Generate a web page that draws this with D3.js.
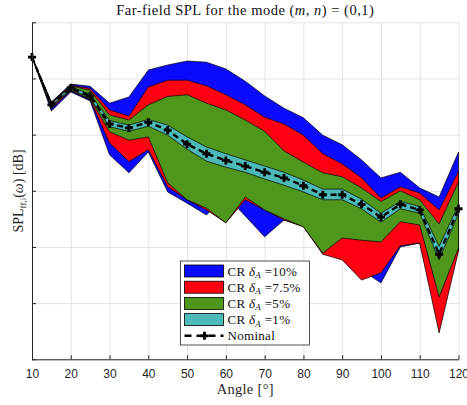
<!DOCTYPE html>
<html>
<head>
<meta charset="utf-8">
<style>
  body { margin: 0; background: #fff; }
  .serif { font-family: "Liberation Serif", "DejaVu Serif", serif; }
  .tick text { font-family: "Liberation Sans", Arial, sans-serif; font-size: 12px; fill: #262626; }
</style>
</head>
<body>
<svg width="467" height="405"></svg>
<script src="https://d3js.org/d3.v7.min.js"></script>
<script>
// angle axis (degrees)
var angles = [10, 15, 20, 25, 30, 35, 40, 45, 50, 55, 60, 65, 70, 75, 80, 85, 90, 95, 100, 105, 110, 115, 120];

// nominal far-field SPL (dB)
var nominal = [93.8, 85.3, 88.3, 86.9, 81.9, 81.2, 82.2, 80.8, 78.3, 76.6, 75.4, 74.4, 73.3, 72.3, 70.9, 69.3, 69.3, 67.6, 65.3, 67.6, 66.6, 58.7, 66.8];

// confidence regions, upper / lower bounds (dB)
var cr10Hi = [93.8, 85.8, 89.0, 88.6, 85.6, 86.7, 91.5, 92.4, 93.1, 92.9, 91.7, 89.5, 86.9, 84.7, 83.0, 79.9, 78.2, 75.5, 72.3, 73.3, 70.5, 68.9, 76.9];
var cr10Lo = [93.8, 84.2, 87.6, 86.0, 76.4, 73.2, 76.9, 69.8, 67.8, 65.7, 69.2, 65.5, 61.8, 64.8, 63.7, 59.1, 58.0, 55.9, 53.6, 60.0, 60.7, 47.0, 59.5];
var cr75Hi = [93.8, 85.7, 88.8, 88.2, 84.4, 83.3, 88.5, 89.7, 89.7, 88.7, 87.1, 85.3, 83.1, 81.9, 79.9, 76.6, 74.8, 72.3, 68.7, 70.7, 69.6, 66.6, 73.5];
var cr75Lo = [93.8, 84.6, 87.8, 86.2, 78.5, 75.2, 77.3, 70.7, 68.4, 66.6, 64.3, 68.4, 66.6, 64.8, 63.6, 58.7, 57.7, 54.1, 55.4, 60.2, 60.7, 44.7, 59.3];
var cr5Hi = [93.8, 85.6, 88.7, 87.9, 83.5, 82.6, 85.3, 86.8, 87.1, 85.6, 84.4, 82.6, 80.6, 77.1, 75.1, 73.2, 72.5, 70.5, 68.1, 70.0, 68.4, 64.1, 71.6];
var cr5Lo = [93.8, 84.9, 87.9, 86.3, 80.5, 79.0, 79.6, 71.4, 68.4, 66.9, 64.3, 68.9, 66.6, 65.0, 63.6, 58.9, 61.6, 61.2, 60.9, 64.5, 63.9, 51.1, 59.8];
var cr1Hi = [93.8, 85.5, 88.5, 87.2, 82.5, 81.7, 82.7, 81.7, 79.6, 77.8, 76.6, 75.5, 74.4, 73.3, 71.9, 70.3, 70.3, 68.5, 66.0, 68.1, 67.2, 60.1, 67.5];
var cr1Lo = [93.8, 85.1, 88.1, 86.5, 81.4, 80.6, 81.5, 79.9, 77.4, 75.3, 74.2, 73.3, 72.1, 71.0, 69.8, 68.4, 68.4, 66.8, 64.4, 66.8, 66.0, 57.7, 66.0];

var xTicks = [10, 20, 30, 40, 50, 60, 70, 80, 90, 100, 110, 120];
var yTicks = [40, 50, 60, 70, 80, 90, 100];

var bands = [
  {label: "10%", hi: cr10Hi, lo: cr10Lo, color: "#0a0aff"},
  {label: "7.5%", hi: cr75Hi, lo: cr75Lo, color: "#ff0010"},
  {label: "5%", hi: cr5Hi, lo: cr5Lo, color: "#4f961c"},
  {label: "1%", hi: cr1Hi, lo: cr1Lo, color: "#4dbab9"}
];

var svg = d3.select("svg"),
    margin = {top: 22.3, right: 8.5, bottom: 45.7, left: 32},
    width = +svg.attr("width") - margin.left - margin.right,
    height = +svg.attr("height") - margin.top - margin.bottom,
    g = svg.append("g").attr("transform", "translate(" + margin.left + "," + margin.top + ")");

var x = d3.scaleLinear().domain([10, 120]).range([0, width]);
var y = d3.scaleLinear().domain([40, 100]).range([height, 0]);

// grid
g.append("g")
    .attr("transform", "translate(0," + height + ")")
    .call(d3.axisBottom(x).tickValues(xTicks).tickSize(-height).tickFormat(""))
    .call(function(s) { s.select(".domain").remove(); s.selectAll("line").attr("stroke", "#e3e3e3"); });
g.append("g")
    .call(d3.axisLeft(y).tickValues(yTicks).tickSize(-width).tickFormat(""))
    .call(function(s) { s.select(".domain").remove(); s.selectAll("line").attr("stroke", "#e3e3e3"); });

// bands
bands.forEach(function(b) {
  var area = d3.area()
      .x(function(d, i) { return x(angles[i]); })
      .y0(function(d, i) { return y(b.lo[i]); })
      .y1(function(d, i) { return y(b.hi[i]); });
  g.append("path")
      .datum(angles)
      .attr("d", area)
      .attr("fill", b.color)
      .attr("stroke", "#000")
      .attr("stroke-width", 0.7)
      .attr("stroke-linejoin", "round");
});

// nominal
var line = d3.line()
    .x(function(d, i) { return x(angles[i]); })
    .y(function(d) { return y(d); });
g.append("path")
    .datum(nominal)
    .attr("d", line)
    .attr("fill", "none")
    .attr("stroke", "#000")
    .attr("stroke-width", 2.4)
    .attr("stroke-dasharray", "6,4");
g.selectAll(".mk")
    .data(nominal)
    .enter().append("path")
    .attr("class", "mk")
    .attr("transform", function(d, i) { return "translate(" + x(angles[i]) + "," + y(d) + ")"; })
    .attr("d", "M-4,0H4M0,-4V4")
    .attr("stroke", "#000")
    .attr("stroke-width", 2.8);

// axes
g.append("g")
    .attr("transform", "translate(0," + height + ")")
    .call(d3.axisBottom(x).tickValues(xTicks).tickSizeInner(-4).tickSizeOuter(0).tickPadding(10))
    .call(function(s) { s.select(".domain").attr("stroke", "#262626"); s.selectAll("line").attr("stroke", "#262626"); });
g.append("g")
    .call(d3.axisLeft(y).tickValues(yTicks).tickSizeInner(-4).tickSizeOuter(0).tickFormat(""))
    .call(function(s) { s.select(".domain").attr("stroke", "#262626"); s.selectAll("line").attr("stroke", "#262626"); });

// title
var title = svg.append("text").attr("class", "serif")
    .attr("x", margin.left + width / 2).attr("y", 15)
    .attr("text-anchor", "middle").attr("font-size", 14.5).attr("letter-spacing", 0.5).attr("fill", "#111");
title.append("tspan").text("Far-field SPL for the mode (");
title.append("tspan").attr("font-style", "italic").text("m");
title.append("tspan").text(", ");
title.append("tspan").attr("font-style", "italic").text("n");
title.append("tspan").text(") = (0,1)");

// x label
svg.append("text").attr("class", "serif")
    .attr("x", margin.left + width / 2).attr("y", 394)
    .attr("text-anchor", "middle").attr("font-size", 14.5).attr("letter-spacing", 0.3).attr("fill", "#262626")
    .text("Angle [°]");

// y label
var yl = svg.append("text").attr("class", "serif")
    .attr("transform", "translate(23,191) rotate(-90)")
    .attr("text-anchor", "middle").attr("font-size", 14).attr("fill", "#262626");
yl.append("tspan").text("SPL");
yl.append("tspan").attr("font-size", 9).attr("dy", 3).text("ff,i");
yl.append("tspan").attr("dy", -3).text("(");
yl.append("tspan").attr("font-style", "italic").text("ω");
yl.append("tspan").text(") [dB]");

// legend
var lg = svg.append("g").attr("transform", "translate(180.5,261)");
lg.append("rect").attr("width", 129).attr("height", 84)
    .attr("fill", "#fff").attr("stroke", "#262626").attr("stroke-width", 0.8);
bands.forEach(function(b, i) {
  var row = lg.append("g").attr("transform", "translate(0," + (10 + i * 16.2) + ")");
  row.append("rect").attr("x", 4).attr("y", -6).attr("width", 39).attr("height", 12)
      .attr("fill", b.color).attr("stroke", "#000").attr("stroke-width", 0.8);
  var t = row.append("text").attr("class", "serif").attr("x", 47).attr("y", 4.5)
      .attr("font-size", 13).attr("letter-spacing", 0.3).attr("fill", "#111");
  t.append("tspan").text("CR ");
  t.append("tspan").attr("font-style", "italic").text("δ");
  t.append("tspan").attr("font-size", 9).attr("font-style", "italic").attr("dy", 2.5).text("A");
  t.append("tspan").attr("dy", -2.5).text(" =" + b.label);
});
var nr = lg.append("g").attr("transform", "translate(0," + (10 + 4 * 16.2) + ")");
nr.append("line").attr("x1", 4).attr("x2", 43).attr("stroke", "#000")
    .attr("stroke-width", 2.4).attr("stroke-dasharray", "7,5");
nr.append("path").attr("transform", "translate(24,0)").attr("d", "M-4,0H4M0,-4V4")
    .attr("stroke", "#000").attr("stroke-width", 2.8);
nr.append("text").attr("class", "serif").attr("x", 47).attr("y", 4.5)
    .attr("font-size", 13).attr("letter-spacing", 0.3).attr("fill", "#111").text("Nominal");
</script>
</body>
</html>
